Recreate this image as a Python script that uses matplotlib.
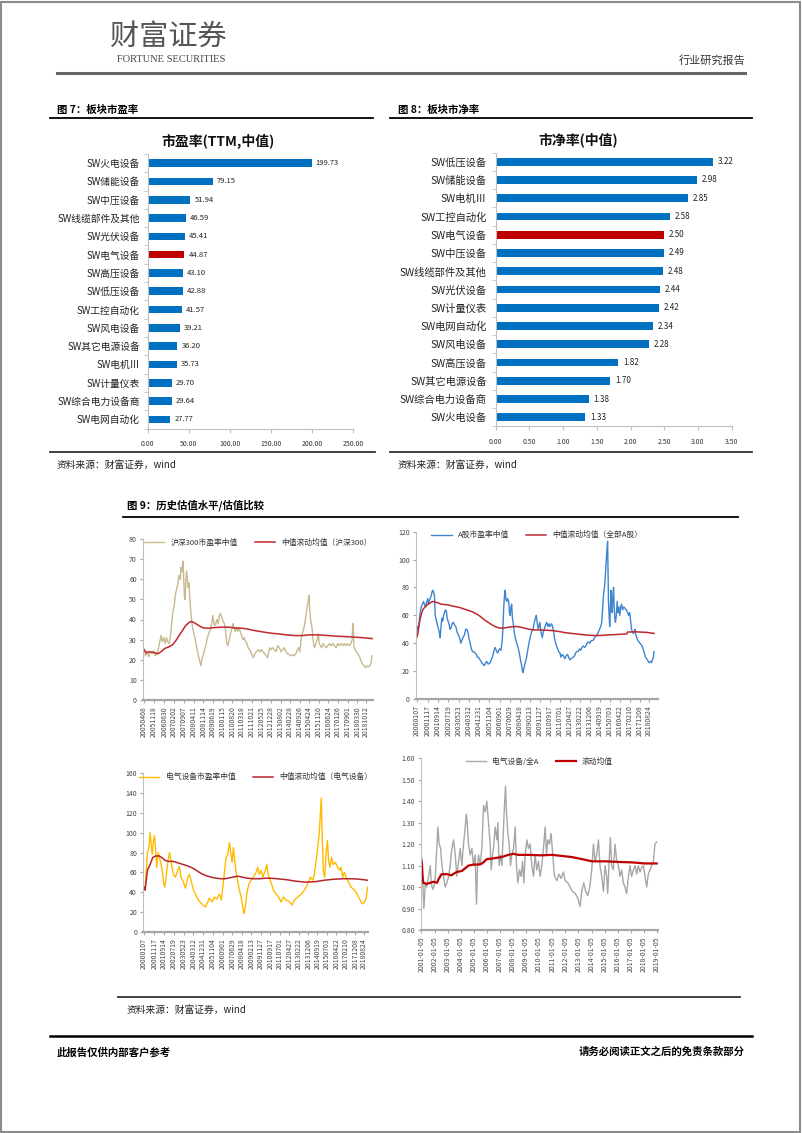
import matplotlib
matplotlib.use("Agg")
import matplotlib.pyplot as plt
from matplotlib.lines import Line2D
from matplotlib.patches import Rectangle

plt.rcParams['font.family'] = ['Noto Sans CJK SC', 'DejaVu Sans']
plt.rcParams['axes.unicode_minus'] = False

W, H = 802, 1133

# ---------------- data: fig 7 / fig 8 ----------------
pe_cats = ['SW火电设备', 'SW储能设备', 'SW中压设备', 'SW线缆部件及其他', 'SW光伏设备',
           'SW电气设备', 'SW高压设备', 'SW低压设备', 'SW工控自动化', 'SW风电设备',
           'SW其它电源设备', 'SW电机Ⅲ', 'SW计量仪表', 'SW综合电力设备商', 'SW电网自动化']
pe_vals = [199.73, 79.15, 51.94, 46.59, 45.41, 44.87, 43.10, 42.88, 41.57, 39.21,
           36.20, 35.73, 29.70, 29.64, 27.77]

pb_cats = ['SW低压设备', 'SW储能设备', 'SW电机Ⅲ', 'SW工控自动化', 'SW电气设备',
           'SW中压设备', 'SW线缆部件及其他', 'SW光伏设备', 'SW计量仪表', 'SW电网自动化',
           'SW风电设备', 'SW高压设备', 'SW其它电源设备', 'SW综合电力设备商', 'SW火电设备']
pb_vals = [3.22, 2.98, 2.85, 2.58, 2.50, 2.49, 2.48, 2.44, 2.42, 2.34, 2.28, 1.82,
           1.70, 1.38, 1.33]

# ---------------- data: fig 9 (years as decimals) ----------------
hs300_t = [2005.27, 2005.35, 2005.45, 2005.55, 2005.65, 2005.75, 2005.85, 2005.95, 2006.05, 2006.15,
           2006.25, 2006.3, 2006.38, 2006.45, 2006.55, 2006.62, 2006.7, 2006.8, 2006.88, 2006.95,
           2007.02, 2007.1, 2007.18, 2007.25, 2007.32, 2007.4, 2007.47, 2007.52, 2007.58, 2007.63,
           2007.67, 2007.72, 2007.76, 2007.8, 2007.85, 2007.9, 2007.95, 2008.0, 2008.05, 2008.1,
           2008.15, 2008.22, 2008.3, 2008.38, 2008.45, 2008.52, 2008.6, 2008.67, 2008.72, 2008.78,
           2008.86, 2008.95, 2009.05, 2009.12, 2009.2, 2009.3, 2009.38, 2009.45, 2009.5, 2009.56,
           2009.63, 2009.7, 2009.78, 2009.85, 2009.92, 2010.0, 2010.08, 2010.15, 2010.22, 2010.3,
           2010.37, 2010.45, 2010.52, 2010.6, 2010.67, 2010.75, 2010.82, 2010.9, 2010.97, 2011.05,
           2011.12, 2011.2, 2011.28, 2011.35, 2011.45, 2011.52, 2011.6, 2011.68, 2011.75, 2011.85,
           2011.92, 2012.0, 2012.1, 2012.2, 2012.3, 2012.4, 2012.5, 2012.6, 2012.7, 2012.78,
           2012.86, 2012.93, 2013.0, 2013.1, 2013.2, 2013.3, 2013.4, 2013.5, 2013.6, 2013.7,
           2013.8, 2013.9, 2014.0, 2014.1, 2014.2, 2014.3, 2014.4, 2014.5, 2014.6, 2014.68,
           2014.75, 2014.82, 2014.9, 2014.97, 2015.05, 2015.12, 2015.19, 2015.25, 2015.3, 2015.35,
           2015.4, 2015.45, 2015.5, 2015.55, 2015.6, 2015.65, 2015.72, 2015.8, 2015.87, 2015.93,
           2016.0, 2016.08, 2016.15, 2016.25, 2016.35, 2016.45, 2016.55, 2016.65, 2016.75, 2016.85,
           2016.95, 2017.05, 2017.15, 2017.25, 2017.35, 2017.45, 2017.55, 2017.65, 2017.75, 2017.85,
           2017.93, 2017.97, 2018.0, 2018.03, 2018.1, 2018.18, 2018.27, 2018.35, 2018.45, 2018.55,
           2018.65, 2018.75, 2018.83, 2018.92, 2019.0, 2019.07, 2019.14]
hs300_v = [25, 22, 24, 21.5, 24, 23, 24.5, 22, 23, 26,
           30, 32, 29, 31, 28, 31, 29, 28, 33, 38,
           44, 47, 53, 55, 58, 62, 60, 66, 64, 69,
           62, 52, 50, 58, 64, 60, 56, 58, 50, 45,
           40, 36, 33, 30, 27, 24, 21, 19, 17, 20,
           22, 25, 28, 31, 33, 35, 38, 42, 39, 37,
           38, 40, 38, 42, 43, 41, 39, 38, 35, 28,
           27, 30, 33, 35, 38, 36, 34, 36, 34, 36,
           34, 32, 30, 31, 29, 28, 26, 25, 24, 22,
           21, 23, 24, 25, 24, 25, 24, 23, 22, 21,
           24, 26, 25, 26, 25, 24, 27, 26, 24, 25,
           26, 24, 23, 22.5, 22, 22.5, 22, 23, 25, 26,
           24, 30, 33, 35, 38, 42, 46, 49, 52, 45,
           40, 38, 35, 30, 27, 26, 28, 30, 33, 28,
           27, 26, 28, 27, 26, 27, 28, 27, 28, 27,
           26, 28, 27, 28, 27, 28, 27, 28, 27, 28,
           30, 38, 37, 27, 25, 24, 23, 22, 20, 18,
           17, 16, 17, 16.5, 17, 18, 22]
hs300_ma_t = [2005.27, 2005.4, 2005.6, 2005.9, 2006.1, 2006.3, 2006.5, 2006.8, 2007.0, 2007.2,
              2007.4, 2007.6, 2007.8, 2008.0, 2008.15, 2008.3, 2008.5, 2008.7, 2008.9, 2009.2,
              2009.6, 2010.0, 2010.4, 2010.8, 2011.2, 2011.6, 2012.0, 2012.5, 2013.0, 2013.5,
              2014.0, 2014.5, 2014.9, 2015.2, 2015.6, 2016.0, 2016.5, 2017.0, 2017.5, 2018.0,
              2018.5, 2019.18]
hs300_ma_v = [25, 23.5, 24, 23.5, 23, 24, 25.5, 26.5, 27.5, 29.5,
              32, 34.5, 37, 38.5, 39, 38.5, 37.5, 36.5, 35.8, 35.7,
              36, 36.2, 36.2, 35.8, 35.7, 35.2, 34.5, 33.8, 33.2, 32.8,
              32.3, 32, 32, 32.3, 32.4, 32.3, 32, 31.7, 31.5, 31.3,
              31, 30.5]

ashare_t = [2000.0, 2000.05, 2000.12, 2000.2, 2000.28, 2000.37, 2000.47, 2000.55, 2000.63, 2000.74,
            2000.82, 2000.9, 2000.96, 2001.0, 2001.08, 2001.17, 2001.24, 2001.3, 2001.38, 2001.44,
            2001.49, 2001.55, 2001.62, 2001.7, 2001.76, 2001.82, 2001.89, 2001.96, 2002.03, 2002.1,
            2002.17, 2002.24, 2002.32, 2002.39, 2002.45, 2002.52, 2002.6, 2002.68, 2002.77, 2002.85,
            2002.96, 2003.05, 2003.15, 2003.25, 2003.35, 2003.45, 2003.55, 2003.63, 2003.72, 2003.84,
            2003.95, 2004.03, 2004.12, 2004.2, 2004.3, 2004.4, 2004.49, 2004.58, 2004.7, 2004.8,
            2004.88, 2004.97, 2005.1, 2005.23, 2005.33, 2005.45, 2005.55, 2005.63, 2005.75, 2005.9,
            2006.0, 2006.09, 2006.2, 2006.3, 2006.4, 2006.5, 2006.57, 2006.66, 2006.78, 2006.88,
            2006.94, 2006.98, 2007.03, 2007.08, 2007.12, 2007.17, 2007.24, 2007.32, 2007.4, 2007.46,
            2007.52, 2007.58, 2007.64, 2007.7, 2007.77, 2007.85, 2007.93, 2008.04, 2008.15, 2008.25,
            2008.35, 2008.44, 2008.5, 2008.56, 2008.62, 2008.7, 2008.78, 2008.84, 2008.93, 2009.03,
            2009.12, 2009.24, 2009.35, 2009.46, 2009.55, 2009.62, 2009.7, 2009.78, 2009.86, 2009.91,
            2010.0, 2010.1, 2010.18, 2010.26, 2010.35, 2010.45, 2010.55, 2010.63, 2010.72, 2010.85,
            2010.93, 2010.98, 2011.08, 2011.17, 2011.25, 2011.33, 2011.42, 2011.52, 2011.6, 2011.7,
            2011.8, 2011.92, 2012.02, 2012.13, 2012.22, 2012.32, 2012.45, 2012.59, 2012.7, 2012.77,
            2012.88, 2012.99, 2013.1, 2013.2, 2013.3, 2013.39, 2013.5, 2013.6, 2013.7, 2013.8,
            2013.92, 2014.05, 2014.19, 2014.3, 2014.38, 2014.5, 2014.6, 2014.7, 2014.8, 2014.88,
            2014.95, 2015.02, 2015.1, 2015.18, 2015.25, 2015.3, 2015.35, 2015.38, 2015.42, 2015.47,
            2015.52, 2015.57, 2015.62, 2015.67, 2015.72, 2015.78, 2015.83, 2015.88, 2015.93, 2015.98,
            2016.05, 2016.12, 2016.18, 2016.25, 2016.33, 2016.4, 2016.47, 2016.55, 2016.65, 2016.75,
            2016.86, 2016.95, 2017.05, 2017.12, 2017.2, 2017.27, 2017.35, 2017.42, 2017.48, 2017.55,
            2017.62, 2017.7, 2017.78, 2017.86, 2017.95, 2018.05, 2018.12, 2018.2, 2018.3, 2018.4,
            2018.47, 2018.55, 2018.62, 2018.7, 2018.8, 2018.88, 2018.95, 2019.03, 2019.08]
ashare_v = [45, 52, 50, 55, 62, 66, 68, 70, 68, 66,
            70, 72, 68, 70, 72, 74, 77, 78, 76, 74,
            60, 58, 55, 52, 50, 48, 44, 52, 58, 56,
            60, 62, 64, 63, 58, 56, 54, 50, 51, 54,
            55, 53, 52, 48, 46, 44, 40, 42, 44, 46,
            50, 50, 48, 44, 40, 36, 34, 34, 33, 32,
            30, 30, 28, 26, 25, 24, 26, 27, 25, 26,
            28, 30, 34, 37, 35, 33, 34, 36, 35, 42,
            52, 62, 70, 76, 78, 72, 70, 72, 70, 62,
            60, 66, 68, 58, 54, 48, 44, 40, 37, 33,
            28, 24, 20, 19, 22, 25, 28, 30, 35, 40,
            44, 48, 50, 55, 58, 60, 54, 50, 53, 55,
            48, 44, 48, 50, 53, 55, 52, 54, 52, 54,
            52, 50, 44, 40, 38, 36, 34, 33, 30, 32,
            31, 29, 31, 32, 30, 28, 29, 30, 31, 33,
            34, 34, 36, 35, 37, 38, 37, 38, 40, 41,
            40, 42, 42, 44, 45, 46, 48, 50, 52, 55,
            65, 75, 80, 90, 100, 108, 113, 95, 70, 60,
            52, 65, 78, 68, 62, 75, 80, 65, 58, 55,
            60, 70, 62, 66, 60, 66, 68, 64, 66, 65,
            64, 62, 60, 62, 56, 50, 48, 47, 48, 50,
            46, 44, 42, 41, 40, 39, 38, 36, 33, 30,
            29, 28, 27, 26, 27, 26, 28, 30, 34]
ashare_ma_t = [2000.0, 2000.08, 2000.15, 2000.25, 2000.35, 2000.5, 2000.7, 2000.9, 2001.1, 2001.3,
               2001.5, 2001.7, 2002.0, 2002.5, 2003.0, 2003.5, 2004.0, 2004.5, 2005.0, 2005.5,
               2006.0, 2006.3, 2006.6, 2006.9, 2007.2, 2007.6, 2008.0, 2008.4, 2008.8, 2009.2,
               2009.6, 2010.0, 2010.5, 2011.0, 2011.5, 2012.0, 2012.5, 2013.0, 2013.5, 2014.0,
               2014.5, 2015.0, 2015.5, 2016.0, 2016.5, 2016.9, 2016.95, 2017.5, 2018.0, 2018.5,
               2019.08]
ashare_ma_v = [44, 46, 50, 56, 60, 64, 66.5, 68, 69, 70,
               69.5, 69, 68, 67.5, 66.5, 65.5, 64, 62.5, 60, 56.5,
               53.5, 52, 51, 50.8, 51.2, 51.8, 52, 51.5, 50.5, 49.8,
               49.5, 49.5, 49.3, 49, 48.3, 47.5, 47, 46.5, 46, 45.7,
               45.5, 45.7, 46, 46.2, 46.5, 46.7, 48, 48.2, 48, 47.8,
               47]

elec_t = [2000.02, 2000.1, 2000.19, 2000.3, 2000.42, 2000.53, 2000.61, 2000.7, 2000.81, 2000.9,
          2000.98, 2001.09, 2001.21, 2001.32, 2001.43, 2001.55, 2001.66, 2001.77, 2001.88, 2002.03,
          2002.17, 2002.28, 2002.39, 2002.5, 2002.67, 2002.87, 2003.01, 2003.15, 2003.35, 2003.52,
          2003.72, 2003.86, 2004.0, 2004.2, 2004.37, 2004.57, 2004.77, 2005.0, 2005.22, 2005.42,
          2005.56, 2005.78, 2005.98, 2006.18, 2006.4, 2006.57, 2006.69, 2006.83, 2006.97, 2007.11,
          2007.25, 2007.36, 2007.48, 2007.59, 2007.7, 2007.82, 2007.96, 2008.1, 2008.24, 2008.38,
          2008.49, 2008.61, 2008.72, 2008.89, 2009.09, 2009.29, 2009.51, 2009.65, 2009.79, 2009.93,
          2010.08, 2010.3, 2010.42, 2010.58, 2010.78, 2010.98, 2011.2, 2011.43, 2011.63, 2011.83,
          2012.05, 2012.34, 2012.56, 2012.76, 2013.04, 2013.33, 2013.61, 2013.89, 2014.12, 2014.31,
          2014.45, 2014.59, 2014.73, 2014.87, 2015.04, 2015.13, 2015.22, 2015.33, 2015.45, 2015.56,
          2015.67, 2015.78, 2015.9, 2016.06, 2016.23, 2016.43, 2016.57, 2016.71, 2016.85, 2016.99,
          2017.14, 2017.36, 2017.56, 2017.76, 2017.99, 2018.21, 2018.41, 2018.55, 2018.69, 2018.83,
          2018.97]
elec_v = [45, 42, 60, 80, 85, 100, 90, 78, 92, 97,
          85, 65, 80, 75, 70, 62, 50, 45, 55, 70,
          80, 73, 65, 58, 55, 62, 66, 55, 50, 44,
          55, 58, 52, 42, 38, 33, 30, 27, 25, 30,
          34, 30, 35, 33, 38, 32, 45, 60, 75, 78,
          90, 80, 70, 85, 72, 60, 50, 42, 35, 25,
          18, 25, 38, 48, 52, 55, 60, 65, 58, 62,
          55, 62, 68, 55, 50, 42, 38, 35, 30, 35,
          32, 30, 27, 32, 35, 38, 42, 48, 55, 52,
          58, 70, 85, 100, 135, 90, 60, 55, 80, 92,
          70, 65, 75, 68, 70, 65, 62, 65, 55, 60,
          55, 50, 45, 43, 40, 35, 30, 28, 30, 33,
          45]
elec_ma_t = [2000.02, 2000.1, 2000.3, 2000.53, 2000.75, 2001.0, 2001.3, 2001.52, 2001.8, 2002.1,
             2002.5, 2002.9, 2003.3, 2003.7, 2004.1, 2004.5, 2004.9, 2005.3, 2005.9, 2006.5,
             2006.9, 2007.3, 2007.7, 2008.0, 2008.4, 2008.8, 2009.3, 2009.8, 2010.3, 2010.8,
             2011.3, 2012.1, 2012.9, 2013.7, 2014.5, 2015.3, 2016.1, 2016.9, 2017.6, 2018.3,
             2018.97]
elec_ma_v = [45, 42, 62, 68, 75, 76.5, 76.5, 75, 72, 71,
             71, 69.5, 68, 66.5, 64.5, 61.5, 58.5, 56.5, 54.5, 53.5,
             53.5, 54.5, 55.5, 56, 55, 54, 53.5, 53.5, 54, 54,
             53.5, 52.5, 51, 50, 50.5, 52, 53, 53.5, 53.5, 53,
             52]

ratio_t = [2001.0, 2001.1, 2001.2, 2001.31, 2001.43, 2001.56, 2001.69, 2001.76, 2001.87, 2001.97,
           2002.07, 2002.2, 2002.27, 2002.37, 2002.48, 2002.58, 2002.7, 2002.83, 2002.96, 2003.09,
           2003.21, 2003.34, 2003.47, 2003.6, 2003.72, 2003.85, 2003.98, 2004.1, 2004.23, 2004.36,
           2004.44, 2004.51, 2004.61, 2004.74, 2004.87, 2004.99, 2005.12, 2005.22, 2005.3, 2005.38,
           2005.5, 2005.63, 2005.76, 2005.89, 2006.01, 2006.14, 2006.27, 2006.34, 2006.45, 2006.55,
           2006.65, 2006.78, 2006.85, 2006.95, 2007.06, 2007.16, 2007.29, 2007.36, 2007.44, 2007.51,
           2007.62, 2007.72, 2007.82, 2007.92, 2008.05, 2008.18, 2008.28, 2008.38, 2008.51, 2008.63,
           2008.74, 2008.84, 2008.94, 2009.07, 2009.19, 2009.32, 2009.45, 2009.58, 2009.7, 2009.83,
           2009.96, 2010.08, 2010.21, 2010.34, 2010.47, 2010.57, 2010.67, 2010.8, 2010.92, 2011.05,
           2011.18, 2011.36, 2011.53, 2011.69, 2011.86, 2011.99, 2012.2, 2012.37, 2012.55, 2012.76,
           2012.96, 2013.14, 2013.26, 2013.42, 2013.57, 2013.72, 2013.88, 2014.03, 2014.16, 2014.28,
           2014.41, 2014.54, 2014.66, 2014.79, 2014.92, 2015.05, 2015.17, 2015.25, 2015.38, 2015.45,
           2015.55, 2015.68, 2015.81, 2015.94, 2016.06, 2016.19, 2016.32, 2016.44, 2016.57, 2016.7,
           2016.83, 2016.95, 2017.08, 2017.21, 2017.34, 2017.46, 2017.59, 2017.72, 2017.84, 2017.97,
           2018.1, 2018.23, 2018.35, 2018.48, 2018.61, 2018.74, 2018.86, 2018.99]
ratio_v = [1.13, 1.05, 0.90, 1.02, 1.00, 1.05, 1.10, 1.02, 0.99, 1.00,
           1.05, 1.20, 1.28, 1.20, 1.18, 1.10, 1.05, 1.00, 1.02, 1.05,
           1.10, 1.18, 1.22, 1.15, 1.05, 1.12, 1.18, 1.10, 1.20, 1.28,
           1.34, 1.30, 1.20, 1.15, 1.18, 1.10, 1.15, 0.92, 1.10, 1.15,
           1.10, 1.18, 1.38, 1.35, 1.40, 1.30, 1.20, 1.08, 1.15, 1.20,
           1.28, 1.22, 1.30, 1.10, 1.15, 1.10, 1.28, 1.38, 1.47, 1.35,
           1.25, 1.20, 1.10, 1.15, 1.18, 1.28, 1.10, 1.02, 1.08, 1.05,
           1.12, 1.02, 1.15, 1.22, 1.18, 1.20, 1.10, 1.05, 1.15, 1.08,
           1.12, 1.05, 1.10, 1.18, 1.28, 1.15, 1.22, 1.20, 1.25, 1.15,
           1.05, 1.03, 1.06, 1.04, 1.07, 1.03, 1.02, 1.00, 0.98, 0.97,
           0.95, 0.91, 0.98, 1.02, 0.98, 0.96, 1.00, 1.08, 1.20, 1.12,
           1.15, 1.22, 1.10, 1.05, 0.98, 1.10, 1.05, 0.97, 1.15, 1.23,
           1.10, 1.08, 1.20, 1.12, 1.10, 1.05, 1.08, 1.02, 1.00, 0.97,
           1.05, 1.10, 1.05, 1.08, 1.10, 1.06, 1.10, 1.07, 1.09, 1.10,
           1.05, 1.00, 1.06, 1.08, 1.10, 1.12, 1.20, 1.21]
ratio_ma_t = [2001.0, 2001.05, 2001.1, 2001.15, 2001.4, 2001.7, 2001.95, 2002.2, 2002.35, 2002.55,
              2002.95, 2003.3, 2003.7, 2004.1, 2004.6, 2005.0, 2005.4, 2005.65, 2006.0, 2006.65,
              2007.15, 2007.65, 2008.05, 2008.4, 2009.2, 2010.2, 2011.0, 2011.75, 2012.5, 2013.3,
              2014.05, 2015.05, 2016.1, 2017.1, 2018.1, 2018.99]
ratio_ma_v = [1.13, 1.11, 1.05, 1.02, 1.015, 1.02, 1.025, 1.02, 1.04, 1.06,
              1.06, 1.055, 1.07, 1.075, 1.10, 1.105, 1.105, 1.11, 1.13, 1.135,
              1.14, 1.15, 1.155, 1.15, 1.15, 1.148, 1.15, 1.145, 1.14, 1.13,
              1.12, 1.12, 1.117, 1.115, 1.11, 1.11]

ticks_hs300 = ['20050408', '20051118', '20060630', '20070202', '20070907', '20080411',
               '20081114', '20090619', '20100115', '20100820', '20110318', '20111021',
               '20120525', '20121228', '20130802', '20140228', '20140926', '20150424',
               '20151120', '20160624', '20170126', '20170901', '20180330', '20181012']
ticks_a = ['20000107', '20001117', '20010914', '20020719', '20030523', '20040312',
           '20041231', '20051104', '20060901', '20070629', '20080418', '20090213',
           '20091127', '20100917', '20110701', '20120427', '20130222', '20131206',
           '20140919', '20150703', '20160422', '20170210', '20171208', '20180824']
ticks_ratio = ['%d-01-05' % y for y in range(2001, 2020)]


def frac_year(s):
    s = s.replace('-', '')
    y, m, d = int(s[:4]), int(s[4:6]), int(s[6:8])
    return y + ((m - 1) * 30.4 + d) / 365.0


fig = plt.figure(figsize=(W / 100, H / 100), dpi=100)


def box(l, t, r, b):
    return [l / W, 1 - b / H, (r - l) / W, (b - t) / H]


def ftext(x, y, s, **kw):
    fig.text(x / W, 1 - y / H, s, **kw)


def hline(x1, x2, y, **kw):
    fig.add_artist(Line2D([x1 / W, x2 / W], [1 - y / H, 1 - y / H],
                          transform=fig.transFigure, **kw))


# page frame
fig.add_artist(Rectangle((0.001, 0.001), 0.997, 0.997, transform=fig.transFigure,
                         fill=False, ec='#8c8c8c', lw=1.5))

# header
ftext(168, 37, '财富证券', fontsize=21, color='#555555', ha='center', va='center')
ftext(171, 59, 'FORTUNE SECURITIES', fontsize=7.5, color='#444444', ha='center',
      va='center', family='Liberation Serif')
ftext(745, 60, '行业研究报告', fontsize=8, color='#333333', ha='right', va='center')
hline(57, 745, 73, color='#666666', lw=2.2)

# figure headings
ftext(57, 110, '图 7：板块市盈率', fontsize=7.5, weight='bold', va='center')
ftext(398, 110, '图 8：板块市净率', fontsize=7.5, weight='bold', va='center')
hline(50, 373, 118, color='black', lw=1.3)
hline(390, 752, 118, color='black', lw=1.3)


def bar_panel(rect, cats, vals, xmax, step, title, title_xy, hl, cat_fs, val_fs, pad):
    ax = fig.add_axes(box(*rect))
    colors = ['#C00000' if c == hl else '#0070C0' for c in cats]
    ypos = list(range(len(cats)))
    ax.barh(ypos, vals, height=0.42, color=colors)
    ax.set_ylim(len(cats) - 0.5, -0.5)
    ax.set_xlim(0, xmax)
    ax.set_yticks(ypos)
    ax.set_yticklabels(cats, fontsize=cat_fs, color='#222222')
    ax.set_yticks([i + 0.5 for i in range(-1, len(cats))], minor=True)
    xt = [i * step for i in range(int(round(xmax / step)) + 1)]
    ax.set_xticks(xt)
    ax.set_xticklabels(['%.2f' % v for v in xt], fontsize=5, color='#333333')
    ax.tick_params(axis='y', which='major', length=0, pad=pad)
    ax.tick_params(axis='y', which='minor', length=3, color='#BFBFBF')
    ax.tick_params(axis='x', length=3, color='#BFBFBF', pad=5)
    for s in ['top', 'right']:
        ax.spines[s].set_visible(False)
    for s in ['left', 'bottom']:
        ax.spines[s].set_color('#BFBFBF')
        ax.spines[s].set_linewidth(0.8)
    for y, v in zip(ypos, vals):
        ax.text(v + xmax * 0.02, y, '%.2f' % v, fontsize=val_fs, va='center', color='#222222')
    ftext(title_xy[0], title_xy[1], title, fontsize=10, weight='bold', ha='center',
          va='center', color='#111111')
    return ax


bar_panel((147.5, 154, 353, 428.5), pe_cats, pe_vals, 250, 50,
          '市盈率(TTM,中值)', (218, 141), 'SW电气设备', 7.0, 5.5, 5.5)
bar_panel((495.7, 152.6, 731.7, 426.4), pb_cats, pb_vals, 3.5, 0.5,
          '市净率(中值)', (578, 140), 'SW电气设备', 7.4, 5.8, 6.5)

hline(50, 375, 452, color='#333333', lw=1.3)
hline(390, 752, 452, color='#333333', lw=1.3)
ftext(57, 465, '资料来源：财富证券，wind', fontsize=7, style='italic', va='center',
      color='#222222')
ftext(398, 465, '资料来源：财富证券，wind', fontsize=7, style='italic', va='center',
      color='#222222')

# fig 9
ftext(127, 505, '图 9：历史估值水平/估值比较', fontsize=7.5, weight='bold', va='center')
hline(123, 738, 517, color='black', lw=1.3)


def line_panel(rect, xlim, ylim, ystep, yfmt, tick_strs, series, labels):
    ax = fig.add_axes(box(*rect))
    handles = []
    for (t, v, c, lw), lab in zip(series, labels):
        h, = ax.plot(t, v, color=c, lw=lw, label=lab)
        handles.append(h)
    ax.set_xlim(*xlim)
    ax.set_ylim(*ylim)
    n = int(round((ylim[1] - ylim[0]) / ystep))
    yt = [ylim[0] + i * ystep for i in range(n + 1)]
    ax.set_yticks(yt)
    ax.set_yticklabels([yfmt % v for v in yt], fontsize=5, color='#444444')
    ax.set_xticks([frac_year(s) for s in tick_strs])
    ax.set_xticklabels(tick_strs, rotation=90, fontsize=4.9, color='#444444')
    ax.tick_params(axis='both', length=2.5, color='#A6A6A6', pad=2)
    for s in ['top', 'right']:
        ax.spines[s].set_visible(False)
    ax.spines['left'].set_color('#BFBFBF')
    ax.spines['left'].set_linewidth(0.8)
    ax.spines['bottom'].set_color('#A6A6A6')
    ax.spines['bottom'].set_linewidth(1.6)
    ax.legend(handles=handles, loc='upper center', bbox_to_anchor=(0.5, 1.045), ncol=2,
              frameon=False, fontsize=5.6, handlelength=2.6, columnspacing=2.2,
              labelcolor='#333333')
    return ax


line_panel((143, 539, 373, 700), (2005.2, 2019.2), (0, 80), 10, '%d', ticks_hs300,
           [(hs300_t, hs300_v, '#C8B98F', 1.0), (hs300_ma_t, hs300_ma_v, '#C0282D', 1.1)],
           ['沪深300市盈率中值', '中值滚动均值（沪深300）'])
line_panel((416, 531.7, 658, 699), (1999.95, 2019.4), (0, 120), 20, '%d', ticks_a,
           [(ashare_t, ashare_v, '#3D85D1', 1.0), (ashare_ma_t, ashare_ma_v, '#C0282D', 1.1)],
           ['A股市盈率中值', '中值滚动均值（全部A股）'])
line_panel((143.3, 773.3, 368, 931.7), (1999.95, 2019.0), (0, 160), 20, '%d', ticks_a,
           [(elec_t, elec_v, '#FFBA00', 1.0), (elec_ma_t, elec_ma_v, '#B5262C', 1.1)],
           ['电气设备市盈率中值', '中值滚动均值（电气设备）'])
line_panel((421, 758.3, 657.7, 930), (2000.98, 2019.07), (0.8, 1.6), 0.1, '%.2f', ticks_ratio,
           [(ratio_t, ratio_v, '#A6A6A6', 1.0), (ratio_ma_t, ratio_ma_v, '#C00000', 1.6)],
           ['电气设备/全A', '滚动均值'])

hline(118, 740, 997, color='#333333', lw=1.3)
ftext(127, 1010, '资料来源：财富证券，wind', fontsize=7, style='italic', va='center',
      color='#222222')

# footer
hline(50, 752, 1036, color='black', lw=1.8)
ftext(57, 1052, '此报告仅供内部客户参考', fontsize=7.5, weight='bold', va='center')
ftext(745, 1052, '请务必阅读正文之后的免责条款部分', fontsize=7.5, weight='bold',
      va='center', ha='right')

fig.savefig('out.png', dpi=100)
